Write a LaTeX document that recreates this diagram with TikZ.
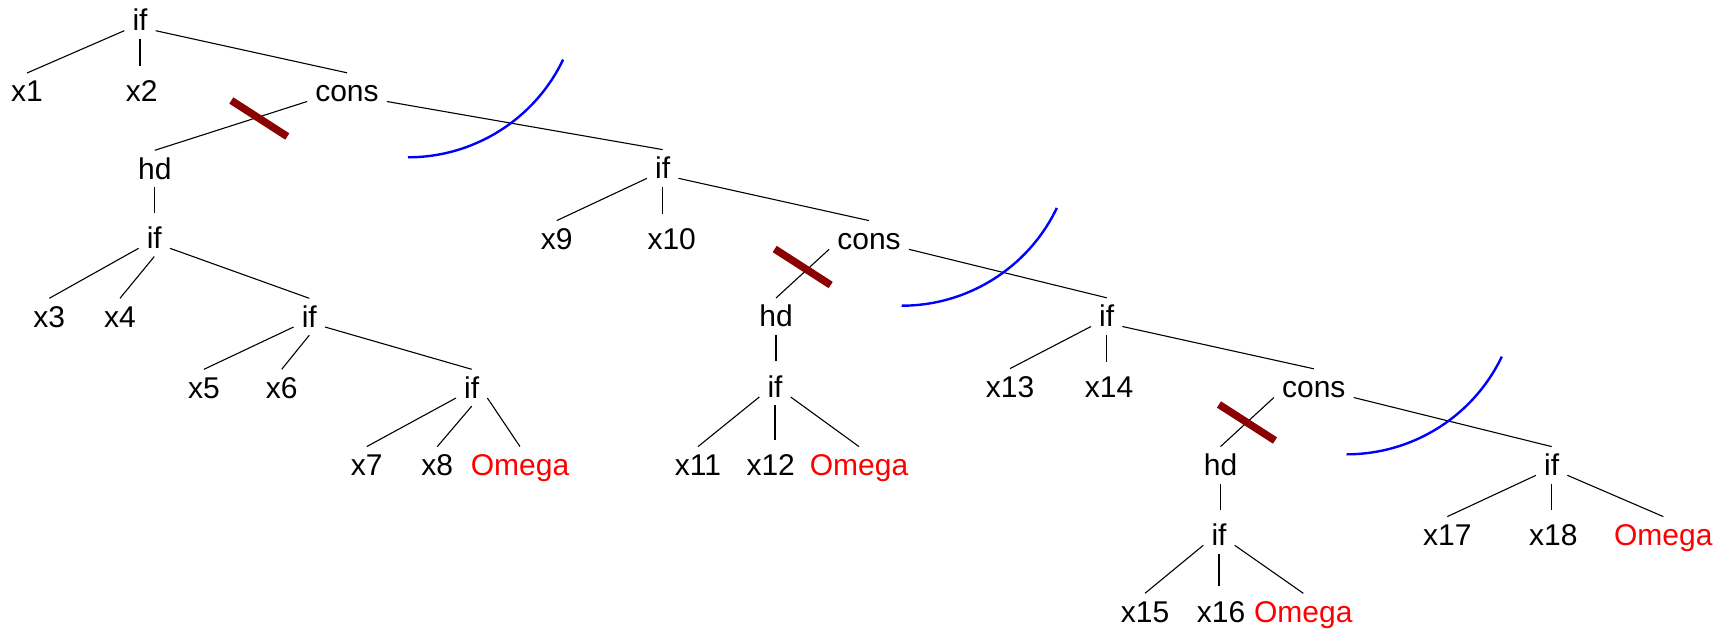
\documentclass[tikz,border=0pt]{standalone}
\usepackage{fontspec}
\setmainfont{Liberation Sans}
\usetikzlibrary{calc}
\definecolor{barred}{RGB}{139,0,0}
\definecolor{omegared}{RGB}{255,0,0}
\definecolor{arcblue}{RGB}{0,0,255}
\newcommand\EdgeL[2]{\draw[edge] (#1.base west) -- (#2.north);}
\newcommand\EdgeR[2]{\draw[edge] (#1.base east) -- (#2.north);}
\newcommand\EdgeM[2]{\draw[edge] (#1.south) -- (#2.north);}
\newcommand\EdgeV[2]{\draw[edge] (#1.south) -- ($(#1.south |- #2.north)+(0,7)$);}
\newcommand\CutBar[3]{\draw[cutbar] ($(#1.base)+(#2,#3)+(-28,18)$) -- ($(#1.base)+(#2,#3)+(28,-18)$);}
\newcommand\CutArc[3]{\draw[cutarc] ($(#1.base)+(#2,#3)$) arc[start angle=-90, end angle=-25.6, radius=172];}
\begin{document}
\begin{tikzpicture}[x=1pt,y=1pt,
  tn/.style={font=\fontsize{30}{36}\selectfont, anchor=base, inner xsep=8pt, inner ysep=8pt, text height=20.5pt, text depth=0pt},
  om/.style={tn, text=omegared},
  edge/.style={line width=1.1pt, draw=black},
  cutbar/.style={draw=barred, line width=7.5pt},
  cutarc/.style={draw=arcblue, line width=2.4pt}]
\useasboundingbox (0,0) rectangle (1725,-632);
% level nodes
\node[tn] (n0) at (140,-30.7) {if};
\node[tn] (x1) at (27,-101.7) {x1};
\node[tn] (x2) at (141.7,-101.7) {x2};
\node[tn] (c1) at (347,-101.5) {cons};
\node[tn] (h1) at (154.8,-179) {hd};
\node[tn] (i1) at (154.3,-248.3) {if};
\node[tn] (x3) at (49.3,-327) {x3};
\node[tn] (x4) at (120,-327) {x4};
\node[tn] (i2) at (309.3,-327) {if};
\node[tn] (x5) at (204,-398) {x5};
\node[tn] (x6) at (281.7,-398) {x6};
\node[tn] (i3) at (471.7,-398) {if};
\node[tn] (x7) at (366.7,-475.3) {x7};
\node[tn] (x8) at (437.3,-475.3) {x8};
\node[om] (o1) at (520,-475.3) {Omega};
\node[tn] (j1) at (662.7,-178.3) {if};
\node[tn] (x9) at (556.7,-249.3) {x9};
\node[tn] (x10) at (671.7,-249.3) {x10};
\node[tn] (c2) at (869,-249.3) {cons};
\node[tn] (h2) at (776,-326.7) {hd};
\node[tn] (j2) at (775,-397) {if};
\node[tn] (x11) at (698,-475.3) {x11};
\node[tn] (x12) at (770.7,-475.3) {x12};
\node[om] (o2) at (859,-475.3) {Omega};
\node[tn] (k1) at (1106.7,-326.5) {if};
\node[tn] (x13) at (1010,-397.3) {x13};
\node[tn] (x14) at (1109,-397.3) {x14};
\node[tn] (c3) at (1313.8,-397.5) {cons};
\node[tn] (h3) at (1220.5,-475.3) {hd};
\node[tn] (k2) at (1219,-545.3) {if};
\node[tn] (x15) at (1145,-622) {x15};
\node[tn] (x16) at (1221,-622) {x16};
\node[om] (o3) at (1303.3,-622) {Omega};
\node[tn] (m1) at (1551.7,-475.3) {if};
\node[tn] (x17) at (1447.3,-545.3) {x17};
\node[tn] (x18) at (1553.3,-545.3) {x18};
\node[om] (o4) at (1663.3,-545.3) {Omega};
% edges
\EdgeL{n0}{x1} \EdgeV{n0}{x2} \EdgeR{n0}{c1}
\EdgeL{c1}{h1} \EdgeR{c1}{j1}
\EdgeV{h1}{i1}
\EdgeL{i1}{x3} \EdgeM{i1}{x4} \EdgeR{i1}{i2}
\EdgeL{i2}{x5} \EdgeM{i2}{x6} \EdgeR{i2}{i3}
\EdgeL{i3}{x7} \EdgeM{i3}{x8} \EdgeR{i3}{o1}
\EdgeL{j1}{x9} \EdgeV{j1}{x10} \EdgeR{j1}{c2}
\EdgeL{c2}{h2} \EdgeR{c2}{k1}
\EdgeV{h2}{j2}
\EdgeL{j2}{x11} \EdgeV{j2}{x12} \EdgeR{j2}{o2}
\EdgeL{k1}{x13} \EdgeV{k1}{x14} \EdgeR{k1}{c3}
\EdgeL{c3}{h3} \EdgeR{c3}{m1}
\EdgeV{h3}{k2}
\EdgeL{k2}{x15} \EdgeV{k2}{x16} \EdgeR{k2}{o3}
\EdgeL{m1}{x17} \EdgeV{m1}{x18} \EdgeR{m1}{o4}
% cut marks
\CutBar{c1}{-87.7}{-17}
\CutBar{c2}{-66.3}{-17.7}
\CutBar{c3}{-66.8}{-25}
\CutArc{c1}{61}{-55.8}
\CutArc{c2}{32.7}{-56.4}
\CutArc{c3}{32.9}{-56.8}
\end{tikzpicture}
\end{document}
